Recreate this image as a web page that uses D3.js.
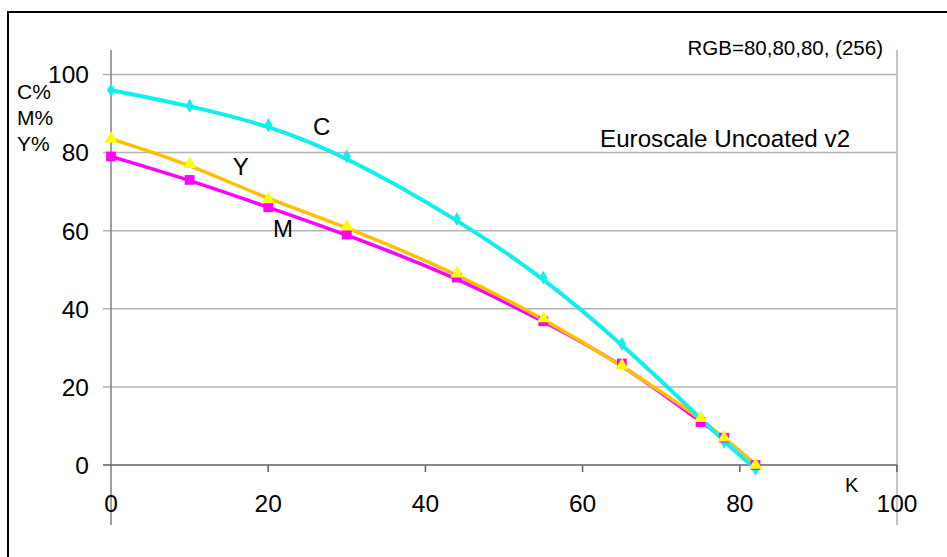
<!DOCTYPE html>
<html>
<head>
<meta charset="utf-8">
<script src="https://cdn.jsdelivr.net/npm/d3@7"></script>
<style>
  body { margin: 0; background: #fff; }
  svg { display: block; font-family: "Liberation Sans", Arial, sans-serif; }
</style>
</head>
<body>
<svg id="chart" width="947" height="557"></svg>
<script>
// K values (x) and the C, M, Y percentages
var kValues = [0, 10, 20, 30, 44, 55, 65, 75, 78, 82];
var cValues = [96, 92, 87, 79, 63, 48, 31, 12, 6, -1];
var mValues = [79, 73, 66, 59, 48, 36.8, 26, 11, 7, 0];
var yValues = [83.5, 77, 68, 61, 49, 37.5, 25.5, 12, 7, 0];

var xTicks = [0, 20, 40, 60, 80, 100];
var yTicks = [0, 20, 40, 60, 80, 100];

// curve labels, in data units
var curveLabels = [
  {text: "C", k: 25.7, v: 84.5},
  {text: "Y", k: 15.5, v: 74.2},
  {text: "M", k: 20.6, v: 58.4}
];

var svg = d3.select("#chart");

var x = d3.scaleLinear().domain([0, 100]).range([111, 897]);
var y = d3.scaleLinear().domain([0, 100]).range([465, 74.5]);

// outer frame (only left and top edges fall inside the window)
svg.append("rect")
  .attr("x", 8).attr("y", 12)
  .attr("width", 960).attr("height", 600)
  .attr("fill", "none")
  .attr("stroke", "#000")
  .attr("stroke-width", 2);

// gridlines
svg.append("g")
  .selectAll("line")
  .data(yTicks.filter(function(d) { return d > 0; }))
  .enter().append("line")
    .attr("x1", 103).attr("x2", x(100))
    .attr("y1", function(d) { return y(d); })
    .attr("y2", function(d) { return y(d); })
    .attr("stroke", "#b4b4b4")
    .attr("stroke-width", 1.5);

// right border line of plot
svg.append("line")
  .attr("x1", x(100)).attr("x2", x(100))
  .attr("y1", 50).attr("y2", 525)
  .attr("stroke", "#b4b4b4")
  .attr("stroke-width", 1.5);

// y axis line
svg.append("line")
  .attr("x1", x(0)).attr("x2", x(0))
  .attr("y1", 50).attr("y2", 525)
  .attr("stroke", "#808080")
  .attr("stroke-width", 1.5);

// x axis line
svg.append("line")
  .attr("x1", 103).attr("x2", x(100))
  .attr("y1", y(0)).attr("y2", y(0))
  .attr("stroke", "#606060")
  .attr("stroke-width", 1.5);

// x tick marks
svg.append("g")
  .selectAll("line")
  .data(xTicks.filter(function(d) { return d > 0; }))
  .enter().append("line")
    .attr("x1", function(d) { return x(d); })
    .attr("x2", function(d) { return x(d); })
    .attr("y1", y(0)).attr("y2", y(0) + 7)
    .attr("stroke", "#606060")
    .attr("stroke-width", 1.5);

// y tick labels
svg.append("g")
  .attr("font-size", 24.5)
  .attr("text-anchor", "end")
  .selectAll("text")
  .data(yTicks)
  .enter().append("text")
    .attr("x", 89)
    .attr("y", function(d) { return y(d); })
    .attr("dy", "0.36em")
    .text(function(d) { return d; });

// x tick labels
svg.append("g")
  .attr("font-size", 24.5)
  .attr("text-anchor", "middle")
  .selectAll("text")
  .data(xTicks)
  .enter().append("text")
    .attr("x", function(d) { return x(d); })
    .attr("y", 512)
    .text(function(d) { return d; });

// axis titles
svg.append("text")
  .attr("x", 845).attr("y", 492)
  .attr("font-size", 20)
  .text("K");

svg.append("g")
  .attr("font-size", 21)
  .selectAll("text")
  .data(["C%", "M%", "Y%"])
  .enter().append("text")
    .attr("x", 17)
    .attr("y", function(d, i) { return 99 + i * 26; })
    .text(function(d) { return d; });

svg.append("text")
  .attr("x", 883).attr("y", 55)
  .attr("font-size", 20.5)
  .attr("text-anchor", "end")
  .text("RGB=80,80,80, (256)");

svg.append("text")
  .attr("x", 600).attr("y", 147)
  .attr("font-size", 24.2)
  .text("Euroscale Uncoated v2");

// series
var series = [
  {name: "M", values: mValues, line: "#ff00ff", marker: "#ff00ff", shape: d3.symbolSquare, size: 95, width: 3.5},
  {name: "Y", values: yValues, line: "#ffc000", marker: "#ffff00", shape: d3.symbolTriangle, size: 75, width: 3.5},
  {name: "C", values: cValues, line: "#10eeee", marker: "#10eeee", shape: d3.symbolDiamond, size: 55, width: 4}
];

var line = d3.line()
  .x(function(d) { return x(d[0]); })
  .y(function(d) { return y(d[1]); })
  .curve(d3.curveBasis);

series.forEach(function(s) {
  svg.append("path")
    .datum(d3.zip(kValues, s.values))
    .attr("fill", "none")
    .attr("stroke", s.line)
    .attr("stroke-width", s.width)
    .attr("stroke-linejoin", "round")
    .attr("d", line);
});

[series[2], series[0], series[1]].forEach(function(s) {
  svg.append("g")
    .selectAll("path")
    .data(d3.zip(kValues, s.values))
    .enter().append("path")
      .attr("transform", function(d) { return "translate(" + x(d[0]) + "," + y(d[1]) + ")"; })
      .attr("d", d3.symbol().type(s.shape).size(s.size))
      .attr("fill", s.marker);
});

// curve labels
svg.append("g")
  .attr("font-size", 24)
  .selectAll("text")
  .data(curveLabels)
  .enter().append("text")
    .attr("x", function(d) { return x(d.k); })
    .attr("y", function(d) { return y(d.v); })
    .text(function(d) { return d.text; });
</script>
</body>
</html>
